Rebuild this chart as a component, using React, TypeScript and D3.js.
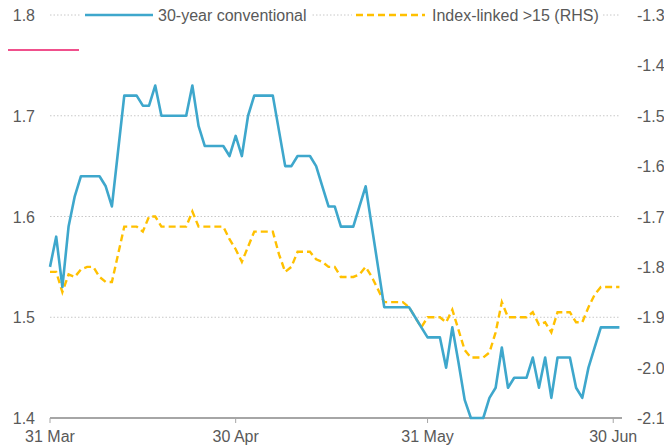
import React, { useRef, useEffect } from 'react';
import * as d3 from 'd3';

// daily values from 31 Mar 2019 to 1 Jul 2019
const startDate = new Date(2019, 2, 31);

const conventional = [
  1.55, 1.58, 1.53, 1.59, 1.62, 1.64, 1.64, 1.64, 1.64, 1.63, 1.61, 1.665, 1.72, 1.72, 1.72, 1.71,
  1.71, 1.73, 1.7, 1.7, 1.7, 1.7, 1.7, 1.73, 1.69, 1.67, 1.67, 1.67, 1.67, 1.66, 1.68, 1.66,
  1.7, 1.72, 1.72, 1.72, 1.72, 1.685, 1.65, 1.65, 1.66, 1.66, 1.66, 1.65, 1.63, 1.61, 1.61, 1.59,
  1.59, 1.59, 1.61, 1.63, 1.59, 1.55, 1.51, 1.51, 1.51, 1.51, 1.51, 1.5, 1.49, 1.48, 1.48, 1.48,
  1.45, 1.49, 1.455, 1.418, 1.4, 1.4, 1.4, 1.42, 1.43, 1.47, 1.43, 1.44, 1.44, 1.44, 1.46, 1.43,
  1.46, 1.42, 1.46, 1.46, 1.46, 1.43, 1.42, 1.45, 1.47, 1.49, 1.49, 1.49, 1.49,
];

const indexLinked = [
  -1.81, -1.81, -1.85, -1.815, -1.82, -1.805, -1.8, -1.8, -1.82, -1.83, -1.83, -1.775, -1.72, -1.72,
  -1.72, -1.73, -1.7, -1.7, -1.72, -1.72, -1.72, -1.72, -1.72, -1.69, -1.72, -1.72, -1.72, -1.72,
  -1.72, -1.745, -1.765, -1.79, -1.76, -1.73, -1.73, -1.73, -1.73, -1.775, -1.81, -1.8, -1.77, -1.77,
  -1.77, -1.785, -1.79, -1.8, -1.8, -1.82, -1.82, -1.82, -1.815, -1.8, -1.82, -1.845, -1.87, -1.87,
  -1.87, -1.87, -1.88, -1.9, -1.92, -1.9, -1.9, -1.9, -1.91, -1.885, -1.925, -1.965, -1.98, -1.98,
  -1.98, -1.97, -1.93, -1.87, -1.9, -1.9, -1.9, -1.9, -1.89, -1.915, -1.91, -1.93, -1.89, -1.89,
  -1.89, -1.91, -1.91, -1.88, -1.855, -1.84, -1.84, -1.84, -1.84,
];

const xTickDates = [new Date(2019, 2, 31), new Date(2019, 3, 30), new Date(2019, 4, 31), new Date(2019, 5, 30)];
const xTickLabels = ['31 Mar', '30 Apr', '31 May', '30 Jun'];
const leftTicks = [1.4, 1.5, 1.6, 1.7, 1.8];
const rightTicks = [-2.1, -2.0, -1.9, -1.8, -1.7, -1.6, -1.5, -1.4, -1.3];

const BLUE = '#3ea7cc';
const YELLOW = '#ffc000';
const TEXT = '#595959';
const FONT = '"Liberation Sans", Arial, sans-serif';
const FS = 16;

const App: React.FC = () => {
  const svgRef = useRef<SVGSVGElement | null>(null);

  useEffect(() => {
    if (!svgRef.current) return;
    const svg = d3.select(svgRef.current);
    svg.selectAll('*').remove();

    const width = 664;
    const height = 445;
    svg.attr('width', width).attr('height', height);

    const dates = conventional.map((_, i) => d3.timeDay.offset(startDate, i));
    const endDate = new Date(2019, 6, 1, 10);

    const x = d3.scaleTime().domain([startDate, endDate]).range([50, 622]);
    const yL = d3.scaleLinear().domain([1.4, 1.8]).range([418, 15]);
    const yR = d3.scaleLinear().domain([-2.1, -1.3]).range([418, 15]);

    // Gridlines
    svg
      .append('g')
      .selectAll('line')
      .data(leftTicks.filter(t => t > 1.4))
      .enter()
      .append('line')
      .attr('x1', 50)
      .attr('x2', 620)
      .attr('y1', d => yL(d))
      .attr('y2', d => yL(d))
      .attr('stroke', '#c8c8c8')
      .attr('stroke-width', 1)
      .attr('stroke-dasharray', '1.5,2');

    // Bottom axis
    svg
      .append('line')
      .attr('x1', 50)
      .attr('x2', 622)
      .attr('y1', 418)
      .attr('y2', 418)
      .attr('stroke', '#a6a6a6')
      .attr('stroke-width', 2);

    svg
      .append('g')
      .selectAll('line')
      .data(xTickDates)
      .enter()
      .append('line')
      .attr('x1', d => x(d))
      .attr('x2', d => x(d))
      .attr('y1', 418)
      .attr('y2', 423)
      .attr('stroke', '#a6a6a6')
      .attr('stroke-width', 1);

    svg
      .append('g')
      .selectAll('text')
      .data(xTickDates)
      .enter()
      .append('text')
      .attr('x', d => x(d))
      .attr('y', 442)
      .attr('text-anchor', 'middle')
      .attr('font-family', FONT)
      .attr('font-size', FS)
      .attr('fill', TEXT)
      .text((_, i) => xTickLabels[i]);

    // Left labels
    svg
      .append('g')
      .selectAll('text')
      .data(leftTicks)
      .enter()
      .append('text')
      .attr('x', 35)
      .attr('y', d => yL(d) + 6)
      .attr('text-anchor', 'end')
      .attr('font-family', FONT)
      .attr('font-size', FS)
      .attr('fill', TEXT)
      .text(d => d.toFixed(1));

    // Right labels
    svg
      .append('g')
      .selectAll('text')
      .data(rightTicks)
      .enter()
      .append('text')
      .attr('x', 637)
      .attr('y', d => yR(d) + 6)
      .attr('text-anchor', 'start')
      .attr('font-family', FONT)
      .attr('font-size', FS)
      .attr('fill', TEXT)
      .text(d => d.toFixed(1));

    // Lines
    const lineL = d3
      .line<number>()
      .x((_, i) => x(dates[i]))
      .y(d => yL(d));
    const lineR = d3
      .line<number>()
      .x((_, i) => x(dates[i]))
      .y(d => yR(d));

    svg
      .append('path')
      .datum(indexLinked)
      .attr('d', lineR)
      .attr('fill', 'none')
      .attr('stroke', YELLOW)
      .attr('stroke-width', 2.4)
      .attr('stroke-dasharray', '7,4');

    svg
      .append('path')
      .datum(conventional)
      .attr('d', lineL)
      .attr('fill', 'none')
      .attr('stroke', BLUE)
      .attr('stroke-width', 2.6)
      .attr('stroke-linejoin', 'round');

    // Legend
    const legend = svg.append('g');
    legend.append('rect').attr('x', 80).attr('y', 5).attr('width', 232).attr('height', 20).attr('fill', '#fff');
    legend.append('rect').attr('x', 352).attr('y', 5).attr('width', 250).attr('height', 20).attr('fill', '#fff');
    legend
      .append('line')
      .attr('x1', 85)
      .attr('x2', 153)
      .attr('y1', 15)
      .attr('y2', 15)
      .attr('stroke', BLUE)
      .attr('stroke-width', 2.6);
    legend
      .append('text')
      .attr('x', 158)
      .attr('y', 21)
      .attr('font-family', FONT)
      .attr('font-size', FS)
      .attr('fill', TEXT)
      .text('30-year conventional');
    legend
      .append('line')
      .attr('x1', 356)
      .attr('x2', 425)
      .attr('y1', 15)
      .attr('y2', 15)
      .attr('stroke', YELLOW)
      .attr('stroke-width', 2.4)
      .attr('stroke-dasharray', '7,4');
    legend
      .append('text')
      .attr('x', 432)
      .attr('y', 21)
      .attr('font-family', FONT)
      .attr('font-size', FS)
      .attr('fill', TEXT)
      .text('Index-linked >15 (RHS)');

    // pink header rule
    svg
      .append('line')
      .attr('x1', 8)
      .attr('x2', 79)
      .attr('y1', 50)
      .attr('y2', 50)
      .attr('stroke', '#f0508c')
      .attr('stroke-width', 2);
  }, []);

  return <svg ref={svgRef} style={{ position: 'absolute', left: 0, top: 0 }}></svg>;
};

export default App;
